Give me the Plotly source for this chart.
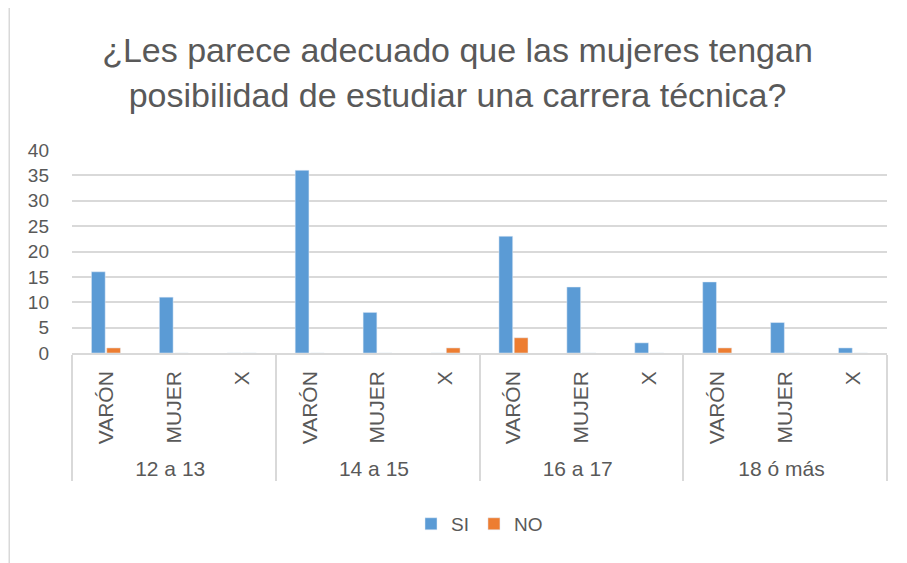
import plotly.graph_objects as go

edades = ["12 a 13", "14 a 15", "16 a 17", "18 ó más"]
generos = ["VARÓN", "MUJER", "X"]
si = [16, 11, 0, 36, 8, 0, 23, 13, 2, 14, 6, 1]
no = [1, 0, 0, 0, 0, 1, 3, 0, 0, 1, 0, 0]

grupo = [e for e in edades for g in generos]
sexo = [g for e in edades for g in generos]

fig = go.Figure()
fig.add_trace(go.Bar(x=[grupo, sexo], y=si, name="SI", marker_color="#5B9BD5"))
fig.add_trace(go.Bar(x=[grupo, sexo], y=no, name="NO", marker_color="#ED7D31"))

# the page puts the figure 8px in from the top-left corner
fig.update_layout(
    width=899, height=555,
    margin=dict(l=64, r=20, t=142, b=210, autoexpand=False),
    paper_bgcolor="white", plot_bgcolor="white",
    font=dict(family="Liberation Sans, sans-serif", size=18, color="#595959"),
    title=dict(text="¿Les parece adecuado que las mujeres tengan<br>posibilidad de estudiar una carrera técnica?",
               x=0.5, xanchor="center", y=0.902, yanchor="middle",
               font=dict(family="Liberation Sans, sans-serif", size=34, color="#595959")),
    barmode="group", bargap=0.55, bargroupgap=0.1,
    showlegend=True,
    legend=dict(orientation="h", x=0.5, xanchor="center", y=-0.842, yanchor="middle",
                font=dict(size=19, color="#595959"), traceorder="normal", itemwidth=30),
)
fig.update_yaxes(range=[0, 40], dtick=5, showgrid=True, gridcolor="#D9D9D9", gridwidth=1.5,
                 zeroline=False, showline=False, ticks="", tickfont=dict(size=19), automargin=False,
                 ticklabelstandoff=22)
fig.update_xaxes(type="multicategory", tickangle=-90, showline=True, linecolor="#D9D9D9", linewidth=1.5,
                 showdividers=True, dividercolor="#D9D9D9", dividerwidth=1.5, ticks="",
                 tickfont=dict(size=21), automargin=False, ticklabelstandoff=8)

# chart frame edge on the left
fig.add_shape(type="line", xref="paper", yref="paper", x0=-0.077, x1=-0.077, y0=-1.1, y1=1.75,
              line=dict(color="#D9D9D9", width=1.5))

fig.write_html("out.html")
